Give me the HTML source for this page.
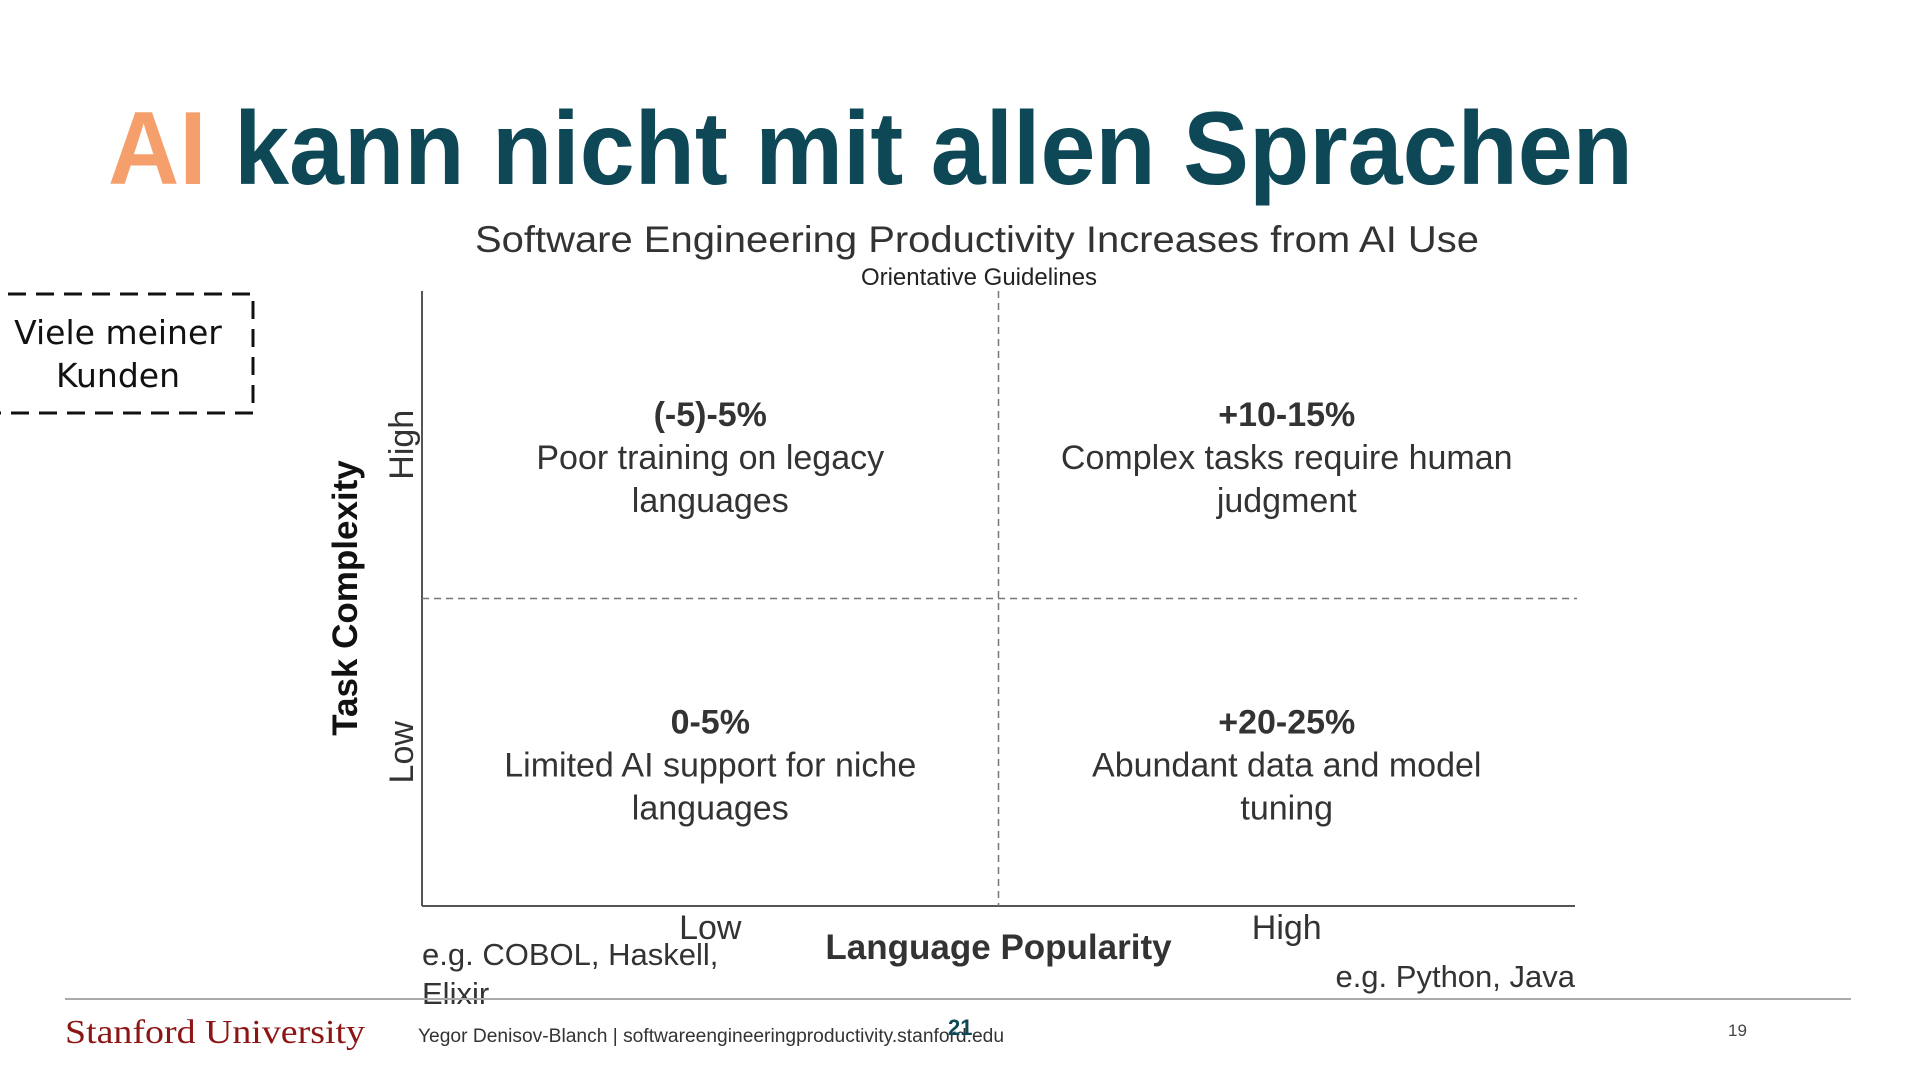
<!DOCTYPE html>
<html><head><meta charset="utf-8"><style>
html,body{margin:0;padding:0;background:#fff;width:1920px;height:1080px;overflow:hidden}
svg{display:block}
text{font-family:"Liberation Sans",sans-serif}
</style></head><body>
<svg id="s" width="1920" height="1080" viewBox="0 0 1920 1080">
  <text x="108" y="184" font-size="104" font-weight="bold" textLength="1525" lengthAdjust="spacingAndGlyphs"><tspan fill="#F5A06C">AI</tspan><tspan fill="#0E4857"> kann nicht mit allen Sprachen</tspan></text>

  <g>
    <rect x="-20" y="294" width="273" height="119" fill="none" stroke="#111" stroke-width="3" stroke-dasharray="18,10"/>
    <text x="118" y="344" font-size="33" text-anchor="middle" fill="#111" style="font-family:'DejaVu Sans',sans-serif">Viele meiner</text>
    <text x="118" y="387" font-size="33" text-anchor="middle" fill="#111" style="font-family:'DejaVu Sans',sans-serif">Kunden</text>
  </g>

  <text x="977" y="252" font-size="37" fill="#333" text-anchor="middle" textLength="1004" lengthAdjust="spacingAndGlyphs">Software Engineering Productivity Increases from AI Use</text>
  <text x="979" y="285" font-size="24" fill="#222" text-anchor="middle">Orientative Guidelines</text>

  <g id="chart"></g>

  <line x1="65" y1="999" x2="1851" y2="999" stroke="#aaa" stroke-width="2"/>
  <text x="65" y="1043" font-size="34" fill="#8C1515" style="font-family:'Liberation Serif',serif" textLength="300" lengthAdjust="spacingAndGlyphs">Stanford University</text>
  <text x="418" y="1042" font-size="19" fill="#333" textLength="586" lengthAdjust="spacingAndGlyphs">Yegor Denisov-Blanch | softwareengineeringproductivity.stanford.edu</text>
  <text x="948" y="1035" font-size="22" font-weight="bold" fill="#0E4857">21</text>
  <text x="1728" y="1036" font-size="17" fill="#444">19</text>
</svg>
<script>
const xCategories = ["Low", "High"];
const yCategories = ["Low", "High"];
const quadrantValues = ["(-5)-5%", "+10-15%", "0-5%", "+20-25%"];
const quadrantLine1 = ["Poor training on legacy", "Complex tasks require human", "Limited AI support for niche", "Abundant data and model"];
const quadrantLine2 = ["languages", "judgment", "languages", "tuning"];
const quadrantX = ["Low", "High", "Low", "High"];
const quadrantY = ["High", "High", "Low", "Low"];

const NS = "http://www.w3.org/2000/svg";
const g = document.getElementById("chart");
const L = 422, R = 1575, T = 291, B = 906;
function xScale(cat) { const i = xCategories.indexOf(cat); return L + (R - L) * (i + 0.5) / xCategories.length; }
function yScale(cat) { const i = yCategories.indexOf(cat); return B - (B - T) * (i + 0.5) / yCategories.length; }
function mk(tag, attrs, txt) {
  const e = document.createElementNS(NS, tag);
  for (const k in attrs) e.setAttribute(k, attrs[k]);
  if (txt !== undefined) e.textContent = txt;
  g.appendChild(e);
  return e;
}
let e;
e = mk("line", {x1: L, y1: T, x2: L, y2: B, stroke: "#555", "stroke-width": 2});


e = mk("line", {x1: L, y1: B, x2: R, y2: B, stroke: "#555", "stroke-width": 2});


const midX = (L + R) / 2, midY = (T + B) / 2;
e = mk("line", {x1: midX, y1: T, x2: midX, y2: B, stroke: "#777", "stroke-width": 1.5, "stroke-dasharray": "7,5"});


e = mk("line", {x1: L, y1: midY, x2: R + 2, y2: midY, stroke: "#777", "stroke-width": 1.5, "stroke-dasharray": "7,5"});



for (let i = 0; i < quadrantValues.length; i++) {
  const cx = xScale(quadrantX[i]), cy = yScale(quadrantY[i]);
  e = mk("text", {x: cx, y: cy - 19, "font-size": 34, "font-weight": "bold", fill: "#333", "text-anchor": "middle"}, quadrantValues[i]);
  
  
  e = mk("text", {x: cx, y: cy + 24, "font-size": 34, fill: "#333", "text-anchor": "middle"}, quadrantLine1[i]);
  
  
  e = mk("text", {x: cx, y: cy + 67, "font-size": 34, fill: "#333", "text-anchor": "middle"}, quadrantLine2[i]);
  
  
}
for (const c of xCategories) {
  e = mk("text", {x: xScale(c), y: 939, "font-size": 34, fill: "#333", "text-anchor": "middle"}, c);
  
  
}
for (const c of yCategories) {
  const y = yScale(c);
  e = mk("text", {x: 0, y: 0, "font-size": 34, fill: "#333", "text-anchor": "middle", transform: `translate(413,${y}) rotate(-90)`}, c);
  
  
}
e = mk("text", {x: 0, y: 0, "font-size": 35, "font-weight": "bold", fill: "#111", "text-anchor": "middle", transform: "translate(357,598) rotate(-90)"}, "Task Complexity");


e = mk("text", {x: midX, y: 959, "font-size": 35, "font-weight": "bold", fill: "#333", "text-anchor": "middle"}, "Language Popularity");


e = mk("text", {x: L, y: 965, "font-size": 31, fill: "#333"}, "e.g. COBOL, Haskell,");


e = mk("text", {x: L, y: 1004, "font-size": 31, fill: "#333"}, "Elixir");


e = mk("text", {x: R, y: 987, "font-size": 31, fill: "#333", "text-anchor": "end"}, "e.g. Python, Java");


</script>
</body></html>
